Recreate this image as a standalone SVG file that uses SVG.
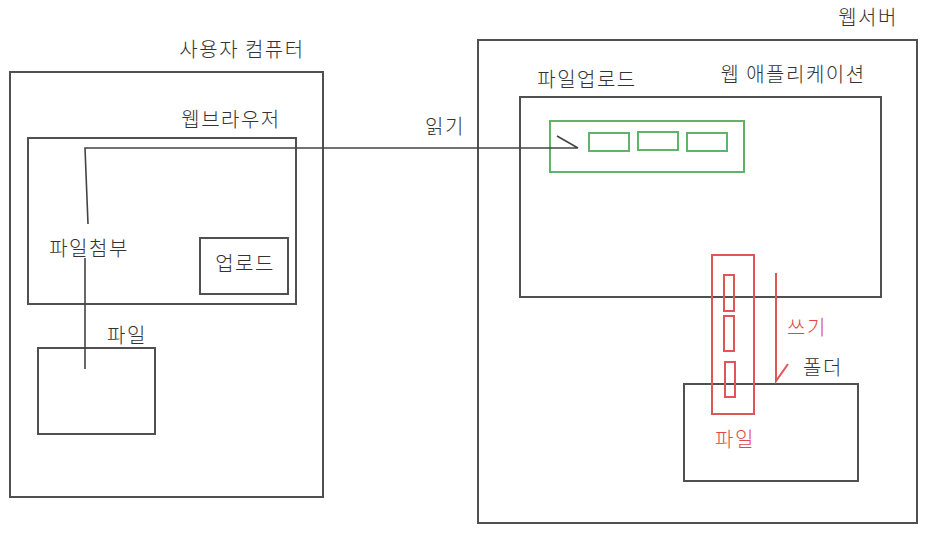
<svg xmlns="http://www.w3.org/2000/svg" width="927" height="534" viewBox="0 0 927 534">
<style>
text{font-family:"Noto Sans CJK KR","Noto Sans",sans-serif;font-size:20px;font-weight:300;letter-spacing:1.5px;fill:#333;text-anchor:middle}
.box{fill:none;stroke:#505050;stroke-width:2}
.g{fill:none;stroke:#5fb46a;stroke-width:2}
.r{fill:none;stroke:#e05555;stroke-width:2}
.red{fill:#e04848}
.ln{fill:none;stroke:#444;stroke-width:1.6}
</style>
<rect width="927" height="534" fill="#fff"/>
<g id="user-computer"><rect class="box" x="10" y="72" width="313" height="425"/><text x="242" y="57">사용자 컴퓨터</text></g>
<g id="web-browser"><rect class="box" x="28" y="138" width="268" height="166"/><text x="231" y="127">웹브라우저</text></g>
<g id="upload-button"><rect class="box" x="200" y="238" width="88" height="56"/><text x="245" y="271">업로드</text></g>
<g id="file-attach"><text x="89" y="256">파일첨부</text></g>
<g id="local-file"><rect class="box" x="38" y="348" width="117" height="86"/><text x="127" y="343">파일</text></g>
<g id="web-server"><rect class="box" x="478" y="40" width="439" height="483"/><text x="868" y="25">웹서버</text></g>
<g id="web-app"><rect class="box" x="520" y="97" width="361" height="200"/><text x="793" y="82">웹 애플리케이션</text></g>
<g id="file-upload"><text x="587" y="87">파일업로드</text><rect class="g" x="550" y="121" width="194" height="51"/><rect class="g" x="589" y="133" width="40" height="18"/><rect class="g" x="638" y="132" width="40" height="18"/><rect class="g" x="687" y="133" width="40" height="18"/></g>
<g id="folder"><rect class="box" x="684" y="384" width="174" height="97"/><text x="823" y="375">폴더</text></g>
<g id="server-file"><rect class="r" x="712" y="255" width="42" height="159"/><rect class="r" x="724" y="275" width="10" height="36"/><rect class="r" x="724" y="316" width="10" height="35"/><rect class="r" x="725" y="362" width="10" height="35"/><text class="red" x="735" y="447">파일</text></g>
<g id="connectors">
<path class="ln" d="M88 224 L85 148 L578 148 M557 136 L578 148"/>
<path class="ln" d="M85 258 L85 369"/>
<text x="445" y="134">읽기</text>
<path class="r" d="M776 273 L776 381 L788 364"/>
<text class="red" x="807" y="335">쓰기</text>
</g>
</svg>
